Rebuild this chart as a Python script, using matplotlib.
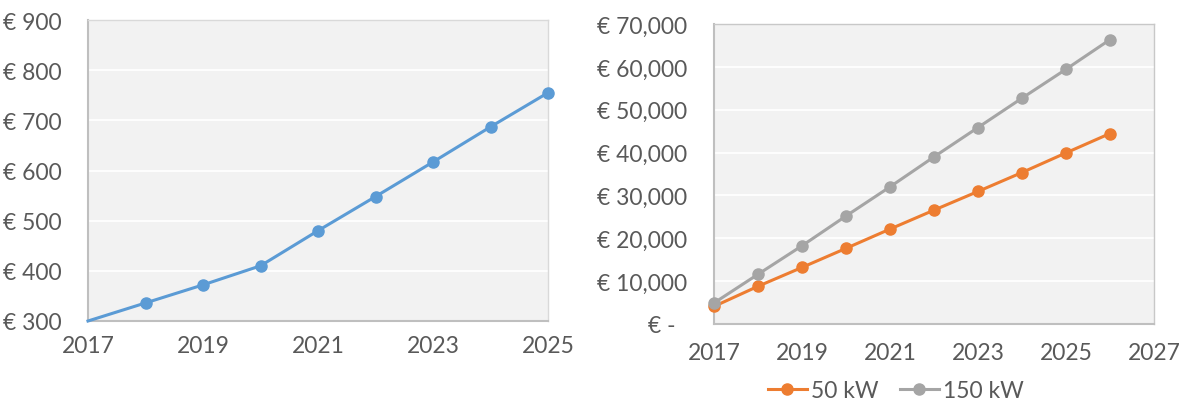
import matplotlib.pyplot as plt
from matplotlib.ticker import FuncFormatter

plt.rcParams['font.family'] = ['Lato', 'DejaVu Sans']

# left chart
years_l = [2017, 2018, 2019, 2020, 2021, 2022, 2023, 2024, 2025]
price = [300, 336, 372, 410, 480, 548, 617, 687, 755]

# right chart
years_r = [2017, 2018, 2019, 2020, 2021, 2022, 2023, 2024, 2025, 2026]
kw50 = [4100, 8800, 13200, 17650, 22150, 26570, 30930, 35350, 39930, 44450]
kw150 = [4900, 11600, 18250, 25200, 32000, 39000, 45850, 52700, 59440, 66360]

TXT = '#595959'
FS = 16.5
W, H = 1183, 406

fig = plt.figure(figsize=(W / 100, H / 100), dpi=100)


def style(ax):
    ax.set_facecolor('#F2F2F2')
    ax.grid(axis='y', color='white', linewidth=1.3)
    ax.set_axisbelow(True)
    for s in ['top', 'right']:
        ax.spines[s].set_color('#D9D9D9')
        ax.spines[s].set_linewidth(1.0)
    for s in ['left', 'bottom']:
        ax.spines[s].set_color('#BFBFBF')
        ax.spines[s].set_linewidth(1.5)
    ax.tick_params(length=0, labelsize=FS, labelcolor=TXT)
    ax.tick_params(axis='y', pad=19)


ax1 = fig.add_axes([88 / W, (H - 322) / H, 460 / W, 301 / H])
style(ax1)
ax1.tick_params(axis='x', pad=10)
ax1.plot(years_l, price, color='#5B9BD5', lw=2.2, marker='o', ms=8,
         markevery=list(range(1, len(years_l))), clip_on=False, zorder=3)
ax1.set_xlim(2017, 2025)
ax1.set_ylim(300, 900)
ax1.set_xticks([2017, 2019, 2021, 2023, 2025])
ax1.set_yticks(range(300, 901, 100))
ax1.yaxis.set_major_formatter(FuncFormatter(lambda v, p: '€ %d' % v))

ax2 = fig.add_axes([714 / W, (H - 325) / H, 440 / W, 300 / H])
style(ax2)
ax2.tick_params(axis='x', pad=13)
for s in ['top', 'right']:
    ax2.spines[s].set_color('#C8C8C8')
ax2.plot(years_r, kw50, color='#ED7D31', lw=2.2, marker='o', ms=8,
         clip_on=False, zorder=3, label='50 kW')
ax2.plot(years_r, kw150, color='#A5A5A5', lw=2.2, marker='o', ms=8,
         clip_on=False, zorder=3, label='150 kW')
ax2.set_xlim(2017, 2027)
ax2.set_ylim(0, 70000)
ax2.set_xticks(range(2017, 2028, 2))
ax2.set_yticks(range(0, 70001, 10000))
ax2.yaxis.set_major_formatter(
    FuncFormatter(lambda v, p: '€ -  ' if v == 0 else '€ {:,.0f}'.format(v)))

leg = fig.legend(loc='center', bbox_to_anchor=(896 / W, 1 - 392 / H), ncol=2,
                 frameon=False, fontsize=FS, handlelength=1.7, handletextpad=0.2,
                 columnspacing=0.9)
for t in leg.get_texts():
    t.set_color(TXT)

fig.savefig('out.png', dpi=100)
